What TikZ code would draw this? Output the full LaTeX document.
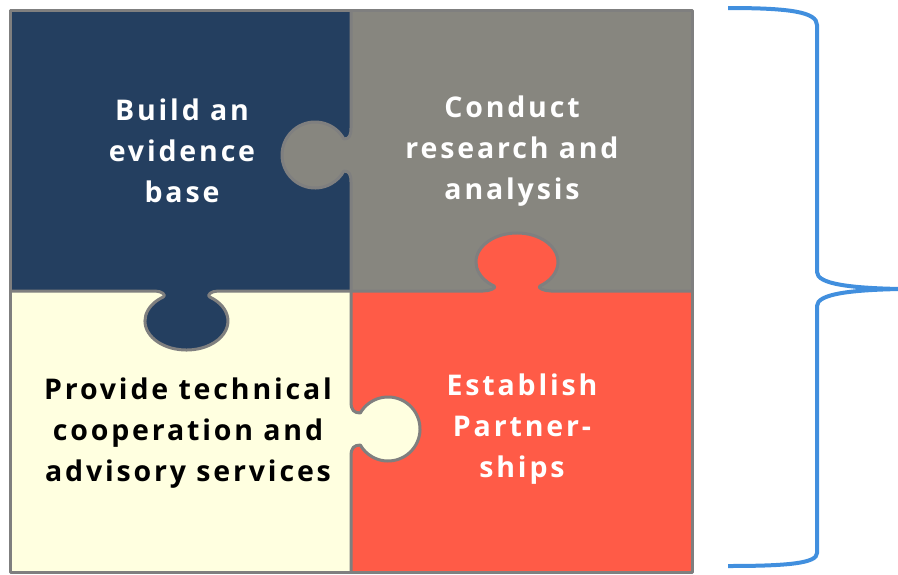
\documentclass[tikz,border=0pt]{standalone}
\usepackage{fontspec}
\setmainfont{Open Sans}
\newfontfamily\lblfont{Open Sans}[LetterSpace=10]
\definecolor{pblue}{HTML}{243F60}
\definecolor{pgray}{HTML}{87867F}
\definecolor{pcream}{HTML}{FFFFE0}
\definecolor{pred}{HTML}{FF5B47}
\definecolor{pborder}{HTML}{7F7F7F}
\definecolor{bracecol}{HTML}{418FDE}
\tikzset{
  lbl/.style={align=center, inner sep=0pt, font=\lblfont\fontsize{28.5}{41}\selectfont\bfseries},
  edge/.style={draw=pborder, line width=3pt, line join=round},
}
\begin{document}
\begin{tikzpicture}[x=1pt,y=-1pt]
\useasboundingbox (0,0) rectangle (898,574);
% pieces
\fill[pblue] (10,10.5) rectangle (351,291);
\fill[pgray] (351,10.5) rectangle (692,291);
\fill[pcream] (10,291) rectangle (351,572);
\fill[pred] (351,291) rectangle (692,572);
% knob 1 (gray into blue)
\fill[pgray] (351,128) .. controls (351,136) and (349,139) .. (343.9,139)
  arc[start angle=-29, end angle=-331, radius=33]
  .. controls (349,171) and (351,174) .. (351,182) -- cycle;
% knob 3 (cream into red)
\fill[pcream] (351,402) .. controls (351,410) and (354,413) .. (360.3,413)
  arc[start angle=-150, end angle=150, radius=32]
  .. controls (354,445) and (351,448) .. (351,456) -- cycle;
% knob 2 (blue into cream)
\fill[pblue] (155,291) .. controls (162,291) and (166.6,295.4) .. (163.2,297)
  arc[start angle=235.9, end angle=-55.9, x radius=41.5, y radius=29]
  .. controls (206.4,295.4) and (211,291) .. (218,291) -- cycle;
% knob 4 (red into gray)
\fill[pred] (483,291) .. controls (490,291) and (497.4,287.6) .. (494,286)
  arc[start angle=124.1, end angle=415.9, x radius=41, y radius=29]
  .. controls (536.6,287.6) and (544,291) .. (551,291) -- cycle;
% borders
\draw[edge] (10,10.5) rectangle (692,572);
\draw[edge] (351,10.5) -- (351,128) .. controls (351,136) and (349,139) .. (343.9,139)
  arc[start angle=-29, end angle=-331, radius=33]
  .. controls (349,171) and (351,174) .. (351,182)
  -- (351,402) .. controls (351,410) and (354,413) .. (360.3,413)
  arc[start angle=-150, end angle=150, radius=32]
  .. controls (354,445) and (351,448) .. (351,456) -- (351,572);
\draw[edge] (10,291) -- (155,291) .. controls (162,291) and (166.6,295.4) .. (163.2,297)
  arc[start angle=235.9, end angle=-55.9, x radius=41.5, y radius=29]
  .. controls (206.4,295.4) and (211,291) .. (218,291)
  -- (483,291) .. controls (490,291) and (497.4,287.6) .. (494,286)
  arc[start angle=124.1, end angle=415.9, x radius=41, y radius=29]
  .. controls (536.6,287.6) and (544,291) .. (551,291) -- (692,291);
% labels
\node[lbl, text=white] (t1) at (182,151) {Build an\\evidence\\base};
\node[lbl, text=white] (t2) at (512,151) {Conduct\\research and\\analysis};
\node[lbl, text=black] (t3) at (188,433) {Provide technical\\cooperation and\\advisory services};
\node[lbl, text=white] (t4) at (522,429) {Establish\\Partner-\\ships};
% brace
\draw[bracecol, line width=4pt] (728,8) .. controls (790,8) and (817,12) .. (817,25)
  -- (817,272) .. controls (817,284) and (850,288) .. (900,289)
  .. controls (850,290) and (817,294) .. (817,306)
  -- (817,553) .. controls (817,563) and (790,566) .. (728,566);
\end{tikzpicture}
\end{document}
